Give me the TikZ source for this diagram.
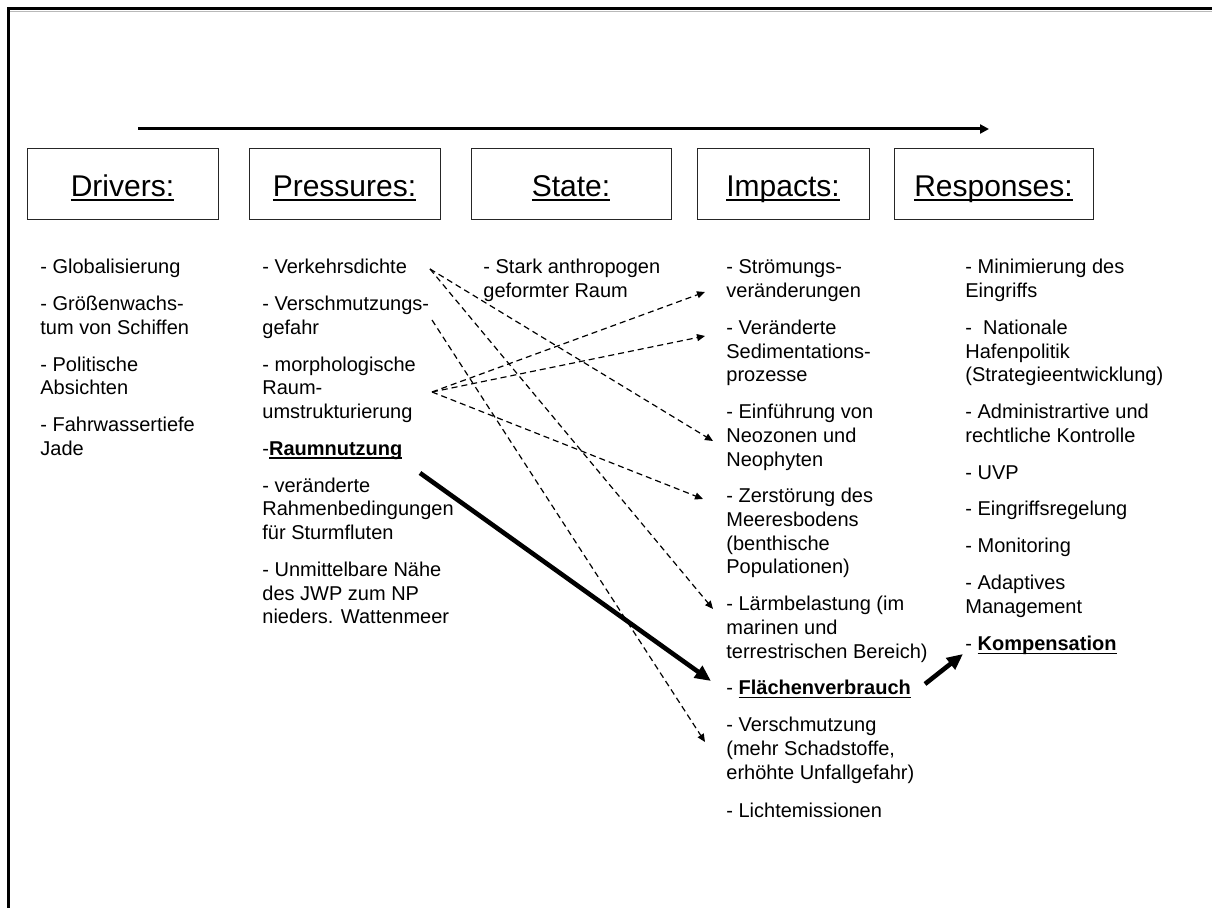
\documentclass[tikz,border=0pt]{standalone}
\usepackage{fontspec}
\setmainfont{Liberation Sans}
\usetikzlibrary{arrows.meta}
\newcommand\ulx[1]{\leavevmode\setbox0\hbox{#1}\rlap{\rule[-1.6pt]{\wd0}{0.65pt}}\box0}
\newcommand\ult[1]{\leavevmode\setbox0\hbox{#1}\rlap{\rule[-2pt]{\wd0}{0.8pt}}\box0}
\newcommand\ml[1]{\begin{tabular}[t]{@{}l@{}}#1\end{tabular}}
\begin{document}
\begin{tikzpicture}[x=0.5pt,y=-0.5pt,
  hdr/.style={draw=black!85, line width=0.5pt, inner sep=0pt, minimum height=35.5pt,
    text height=12.5pt, text depth=0pt, font=\fontsize{15}{18}\selectfont},
  itm/.style={anchor=base west, inner sep=0pt, font=\fontsize{10}{11.85}\selectfont},
  dsh/.style={dash pattern=on 3pt off 2pt, line width=0.6pt, -{Triangle[length=4pt,width=3.5pt]}},
  thk/.style={line width=2.3pt, -{Triangle[length=8pt,width=7pt]}},
  flow/.style={line width=1.5pt, -{Triangle[length=4.5pt,width=4.5pt]}}
]
\useasboundingbox (0,0) rectangle (1212,908);
% frame
\draw[gray!55, line width=0.6pt] (10,11.8) -- (1212,11.8);
\draw[line width=1.5pt, line join=miter] (1212,9) -- (8,9) -- (8,908);
% flow arrow
\coordinate (ta) at (138,129);
\coordinate (tb) at (989,129);
\draw[flow] (ta) -- (tb);
% header boxes
\node[hdr, minimum width=95.5pt] (hd) at (122.5,184.5) {\ult{Drivers:}};
\node[hdr, minimum width=95.5pt] (hp) at (344.5,184.5) {\ult{Pressures:}};
\node[hdr, minimum width=100pt]  (hs) at (571,184.5)   {\ult{State:}};
\node[hdr, minimum width=86pt]   (hi) at (783,184.5)   {\ult{Impacts:}};
\node[hdr, minimum width=99.5pt] (hr) at (993.5,184.5) {\ult{Responses:}};
% Drivers
\node[itm] (d1) at (40,274)   {- Globalisierung};
\node[itm] (d2) at (40,310.8) {\ml{- Größenwachs-\\tum von Schiffen}};
\node[itm] (d3) at (40,371.3) {\ml{- Politische\\Absichten}};
\node[itm] (d4) at (40,431.8) {\ml{- Fahrwassertiefe\\Jade}};
% Pressures
\node[itm] (p1) at (262,274)   {- Verkehrsdichte};
\node[itm] (p2) at (262,310.8) {\ml{- Verschmutzungs-\\gefahr}};
\node[itm] (p3) at (262,371.3) {\ml{- morphologische\\Raum-\\umstrukturierung}};
\node[itm] (p4) at (262,455.5) {-\ulx{\textbf{Raumnutzung}}};
\node[itm] (p5) at (262,492.3) {\ml{- veränderte\\Rahmenbedingungen\\für Sturmfluten}};
\node[itm] (p6) at (262,576.5) {\ml{- Unmittelbare Nähe\\des JWP zum NP\\nieders. Wattenmeer}};
% State
\node[itm] (s1) at (483,274) {\ml{- Stark anthropogen\\geformter Raum}};
% Impacts
\node[itm] (i1) at (726,274)   {\ml{- Strömungs-\\veränderungen}};
\node[itm] (i2) at (726,334.5) {\ml{- Veränderte\\Sedimentations-\\prozesse}};
\node[itm] (i3) at (726,418.7) {\ml{- Einführung von\\Neozonen und\\Neophyten}};
\node[itm] (i4) at (726,502.9) {\ml{- Zerstörung des\\Meeresbodens\\(benthische\\Populationen)}};
\node[itm] (i5) at (726,610.8) {\ml{- Lärmbelastung (im\\marinen und\\terrestrischen Bereich)}};
\node[itm] (i6) at (726,695)   {- \ulx{\textbf{Flächenverbrauch}}};
\node[itm] (i7) at (726,731.8) {\ml{- Verschmutzung\\(mehr Schadstoffe,\\erhöhte Unfallgefahr)}};
\node[itm] (i8) at (726,818)   {- Lichtemissionen};
% Responses
\node[itm] (r1) at (965,274)   {\ml{- Minimierung des\\Eingriffs}};
\node[itm] (r2) at (965,334.5) {\ml{-\ \ Nationale\\Hafenpolitik\\(Strategieentwicklung)}};
\node[itm] (r3) at (965,418.7) {\ml{- Administrartive und\\rechtliche Kontrolle}};
\node[itm] (r4) at (965,479.2) {- UVP};
\node[itm] (r5) at (965,516)   {- Eingriffsregelung};
\node[itm] (r6) at (965,552.8) {- Monitoring};
\node[itm] (r7) at (965,589.6) {\ml{- Adaptives\\Management}};
\node[itm] (r8) at (965,651)   {- \ulx{\textbf{Kompensation}}};
% connector ends
\coordinate (cVd) at (430,269);
\coordinate (cVg) at (432,320);
\coordinate (cMo) at (432,392);
\coordinate (cRn) at (420,473);
\coordinate (cFv) at (925,684);
\coordinate (eStr) at (705,292);
\coordinate (eSed) at (705,336);
\coordinate (eNeo) at (713,441);
\coordinate (eZer) at (703,499);
\coordinate (eLae) at (713,609);
\coordinate (eVer) at (705,742);
\coordinate (eFl)  at (711,681);
\coordinate (eKo)  at (963,654);
% connectors
\draw[dsh] (cVd) -- (eNeo);
\draw[dsh] (cVd) -- (eLae);
\draw[dsh] (cVg) -- (eVer);
\draw[dsh] (cMo) -- (eStr);
\draw[dsh] (cMo) -- (eSed);
\draw[dsh] (cMo) -- (eZer);
\draw[thk] (cRn) -- (eFl);
\draw[thk] (cFv) -- (eKo);
\end{tikzpicture}
\end{document}
